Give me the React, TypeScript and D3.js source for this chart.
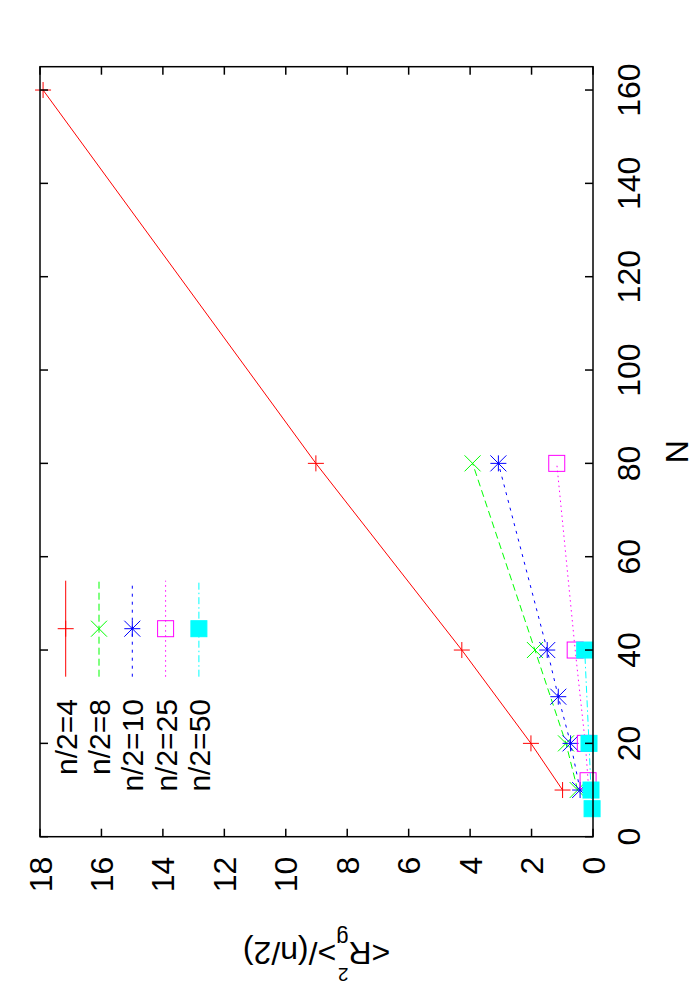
import React from 'react';
import * as d3 from 'd3';

const nTicks = [0, 20, 40, 60, 80, 100, 120, 140, 160];
const rTicks = [0, 2, 4, 6, 8, 10, 12, 14, 16, 18];

const labels = ['n/2=4', 'n/2=8', 'n/2=10', 'n/2=25', 'n/2=50'];
const colors = ['#ff0000', '#00ff00', '#0000ff', '#ff00ff', '#00ffff'];
const dashes = ['none', '7,4', '3,5', '1.5,3.5', '7,3,1.5,3'];
const markers = ['plus', 'cross', 'star', 'square', 'filled'];

const n4N = [10, 20, 40, 80, 160];
const n4R = [0.99, 2.02, 4.27, 9.02, 17.9];
const n8N = [10, 20, 40, 80];
const n8R = [0.5, 0.88, 1.89, 3.92];
const n10N = [10, 20, 30, 40, 80];
const n10R = [0.42, 0.73, 1.13, 1.49, 3.08];
const n25N = [12, 20, 40, 80];
const n25R = [0.16, 0.25, 0.58, 1.18];
const n50N = [6, 10, 20, 40];
const n50R = [0.03, 0.065, 0.13, 0.27];

const seriesN = [n4N, n8N, n10N, n25N, n50N];
const seriesR = [n4R, n8R, n10R, n25R, n50R];

const FONT = 'Liberation Sans, Arial, Helvetica, sans-serif';

// the chart is laid out in landscape and then turned a quarter to the left
const W = 1000;
const H = 700;
const margin = { top: 40, right: 66.7, bottom: 107, left: 163.3 };

const Marker = ({ type, cx, cy, color }: { type: string; cx: number; cy: number; color: string }) => {
  const s = 8;
  if (type === 'square' || type === 'filled') {
    return (
      <rect
        x={cx - s}
        y={cy - s}
        width={2 * s}
        height={2 * s}
        fill={type === 'filled' ? color : 'none'}
        stroke={color}
        strokeWidth={1}
      />
    );
  }
  const plus = `M${cx - s},${cy}H${cx + s}M${cx},${cy - s}V${cy + s}`;
  const cross = `M${cx - s},${cy - s}L${cx + s},${cy + s}M${cx - s},${cy + s}L${cx + s},${cy - s}`;
  const d = type === 'plus' ? plus : type === 'cross' ? cross : plus + cross;
  return <path d={d} stroke={color} strokeWidth={1} fill="none" />;
};

export default function App() {
  const x0 = margin.left;
  const x1 = W - margin.right;
  const y0 = margin.top;
  const y1 = H - margin.bottom;

  const x = d3.scaleLinear().domain([0, 165]).range([x0, x1]);
  const y = d3.scaleLinear().domain([0, 18]).range([y1, y0]);

  const line = d3
    .line<[number, number]>()
    .x((d) => x(d[0]))
    .y((d) => y(d[1]));

  const tick = 8;

  return (
    <svg
      width={700}
      height={1000}
      style={{ position: 'absolute', left: 0, top: 0, background: '#fff' }}
      fontFamily={FONT}
    >
      <rect width={700} height={1000} fill="#fff" />
      <g transform={`translate(0,${W}) rotate(-90)`}>
        {/* data */}
        {seriesN.map((ns, i) => {
          const pts = ns.map((n, j) => [n, seriesR[i][j]] as [number, number]);
          return (
            <g key={labels[i]}>
              <path
                d={line(pts) || ''}
                fill="none"
                stroke={colors[i]}
                strokeWidth={1}
                strokeDasharray={dashes[i]}
              />
              {pts.map((p, j) => (
                <Marker key={j} type={markers[i]} cx={x(p[0])} cy={y(p[1])} color={colors[i]} />
              ))}
            </g>
          );
        })}

        {/* frame */}
        <rect x={x0} y={y0} width={x1 - x0} height={y1 - y0} fill="none" stroke="#000" strokeWidth={1.5} />

        {/* N axis */}
        {nTicks.map((t) => (
          <g key={'n' + t}>
            <line x1={x(t)} x2={x(t)} y1={y1} y2={y1 - tick} stroke="#000" strokeWidth={1.5} />
            <line x1={x(t)} x2={x(t)} y1={y0} y2={y0 + tick} stroke="#000" strokeWidth={1.5} />
            <text x={x(t)} y={y1 + 47} textAnchor="middle" fontSize={32}>
              {t}
            </text>
          </g>
        ))}

        {/* value axis */}
        {rTicks.map((t) => (
          <g key={'r' + t}>
            <line x1={x0} x2={x0 + tick} y1={y(t)} y2={y(t)} stroke="#000" strokeWidth={1.5} />
            <line x1={x1} x2={x1 - tick} y1={y(t)} y2={y(t)} stroke="#000" strokeWidth={1.5} />
            <text x={x0 - 20} y={y(t) + 11.5} textAnchor="end" fontSize={32}>
              {t}
            </text>
          </g>
        ))}

        <text x={(x0 + x1) / 2} y={y1 + 95} textAnchor="middle" fontSize={32}>
          N
        </text>

        <text
          x={58}
          y={(y0 + y1) / 2}
          transform={`rotate(-90, 58, ${(y0 + y1) / 2})`}
          textAnchor="middle"
          fontSize={32}
        >
          {'<R'}
          <tspan fontSize={19} dy={-26}>
            2
          </tspan>
          <tspan fontSize={22} dx={-10.6} dy={37}>
            g
          </tspan>
          <tspan dy={-11}>{'>/(n/2)'}</tspan>
        </text>

        {/* key */}
        {labels.map((lab, i) => {
          const ky = 65.7 + i * 33.3;
          return (
            <g key={'k' + lab}>
              <text x={301} y={ky + 11} textAnchor="end" fontSize={30}>
                {lab}
              </text>
              <line
                x1={323.3}
                x2={419.3}
                y1={ky}
                y2={ky}
                stroke={colors[i]}
                strokeWidth={1}
                strokeDasharray={dashes[i]}
              />
              <Marker type={markers[i]} cx={371.3} cy={ky} color={colors[i]} />
            </g>
          );
        })}
      </g>
    </svg>
  );
}
